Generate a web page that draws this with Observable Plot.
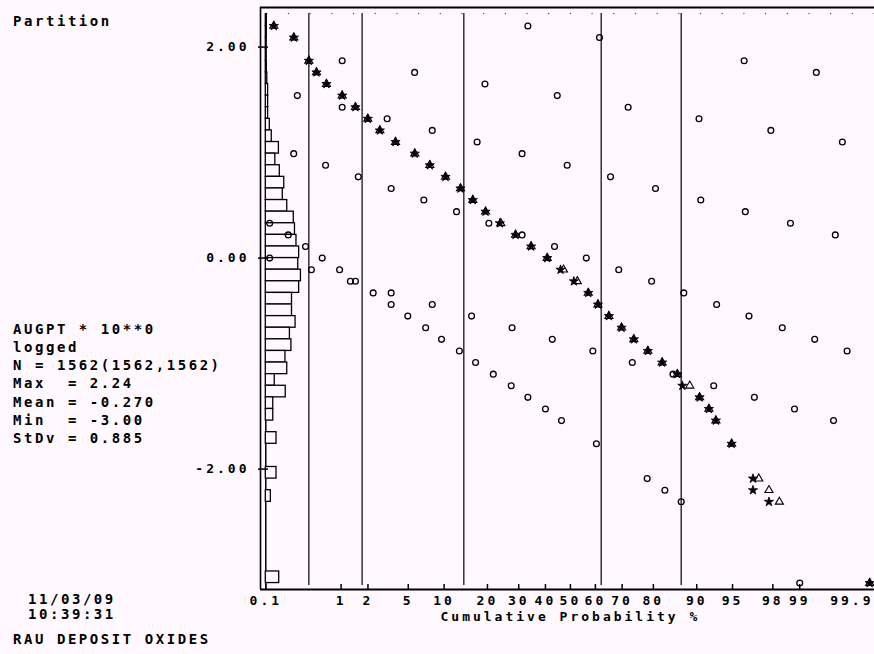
<!DOCTYPE html>
<html><head><meta charset="utf-8">
<script src="https://cdn.jsdelivr.net/npm/d3@7"></script>
<script src="https://cdn.jsdelivr.net/npm/@observablehq/plot@0.6"></script>
<style>
html,body{margin:0;padding:0;background:#fff8ff;}
#wrap{position:relative;width:874px;height:654px;overflow:hidden;background:#fff8ff;}
#wrap svg{position:absolute;left:0;top:0;}
.lbl{position:absolute;font-family:"DejaVu Sans Mono",monospace;font-weight:bold;font-size:14px;line-height:14px;letter-spacing:2.55px;white-space:pre;color:#000;}
</style></head><body>
<div id="wrap"></div>
<script>
// ---------- data ----------
const histBinLow = [2.20,2.09,1.98,1.87,1.76,1.65,1.54,1.43,1.32,1.21,1.10,0.99,0.88,0.77,0.66,0.55,0.44,0.33,0.22,0.11,0.00,-0.11,-0.22,-0.33,-0.44,-0.55,-0.66,-0.77,-0.88,-0.99,-1.10,-1.21,-1.32,-1.43,-1.54,-1.76,-2.09,-2.31,-3.08];
const histFreqPct = [0.17,0.17,0.13,0.13,0.17,0.25,0.39,0.39,0.39,0.67,1.0,2.2,1.6,2.35,3.1,2.85,3.6,4.7,4.9,5.15,5.6,5.45,5.9,5.6,4.4,4.4,5.0,4.05,4.3,3.3,3.6,1.5,3.35,1.25,1.25,1.8,1.8,0.85,2.25];
const histBinWidth = 0.11;

const starValue  = [2.20,2.09,1.87,1.76,1.65,1.54,1.43,1.32,1.21,1.10,0.99,0.88,0.77,0.66,0.55,0.44,0.33,0.22,0.11,0.00,-0.11,-0.22,-0.33,-0.44,-0.55,-0.66,-0.77,-0.88,-0.99,-1.10,-1.21,-1.32,-1.43,-1.54,-1.76,-2.09,-2.20,-2.31,-3.08];
const starCumPct = [0.131,0.251,0.398,0.50,0.666,1.03,1.46,1.99,2.66,3.80,5.72,7.69,10.26,13.24,16.1,19.46,23.7,28.9,34.5,40.7,46.0,51.4,57.2,61.0,65.2,69.8,74.0,78.4,82.4,86.1,87.2,90.5,92.0,93.0,94.9,96.8,96.8,97.8,99.88];

const triangleValue  = [2.20,2.09,1.87,1.76,1.65,1.54,1.43,1.32,1.21,1.10,0.99,0.88,0.77,0.66,0.55,0.44,0.33,0.22,0.11,0.00,-0.11,-0.22,-0.33,-0.44,-0.55,-0.66,-0.77,-0.88,-0.99,-1.10,-1.21,-1.32,-1.43,-1.54,-1.76,-2.09,-2.20,-2.31,-3.08];
const triangleCumPct = [0.131,0.251,0.398,0.50,0.666,1.03,1.46,1.99,2.66,3.80,5.72,7.69,10.26,13.24,16.1,19.46,24.0,28.9,34.5,40.7,47.2,52.8,57.2,61.0,65.2,69.8,74.0,78.4,82.4,86.1,88.7,90.5,92.0,93.0,94.9,97.2,97.8,98.3,99.88];

const circleValue  = [2.20,2.09,1.87,1.87,1.76,1.76,1.65,1.54,1.54,1.43,1.43,1.32,1.32,1.21,1.21,1.10,1.10,0.99,0.99,0.88,0.88,0.77,0.77,0.66,0.66,0.55,0.55,0.44,0.44,0.33,0.33,0.33,0.22,0.22,0.22,0.11,0.11,0.00,0.00,0.00,-0.11,-0.11,-0.11,-0.22,-0.22,-0.22,-0.33,-0.33,-0.33,-0.44,-0.44,-0.44,-0.55,-0.55,-0.55,-0.66,-0.66,-0.66,-0.77,-0.77,-0.77,-0.88,-0.88,-0.88,-0.99,-0.99,-1.10,-1.10,-1.21,-1.21,-1.32,-1.32,-1.43,-1.43,-1.54,-1.54,-1.76,-2.09,-2.20,-2.31,-3.08];
const circleCumPct = [33.3,61.6,1.03,96.1,5.7,99.37,19.3,0.28,44.7,1.03,72.1,3.15,90.4,8.05,97.9,17.2,99.71,0.25,31.2,0.65,48.7,1.57,65.8,3.45,80.6,6.85,90.7,12.4,96.2,0.114,20.4,98.72,0.21,31.2,99.64,0.36,43.6,0.114,0.59,56.4,0.43,0.96,68.8,1.28,1.46,79.5,2.27,3.45,87.5,3.45,8.05,93.1,4.95,15.8,96.5,7.1,27.7,98.42,9.55,42.7,99.34,13.0,59.0,99.75,16.8,73.5,21.7,85.1,27.4,92.7,33.3,96.9,40.0,98.85,46.4,99.62,60.4,78.2,83.1,86.95,99.0];

const partitionCumPct = [0.398,1.73,13.97,62.27,86.95];

const xTickPct    = [0.1,1,2,5,10,20,30,40,50,60,70,80,90,95,98,99,99.9];
const xTickLabels = ["0.1","1","2","5","10","20","30","40","50","60","70","80","90","95","98","99","99.9"];
const yTicks      = [2,0,-2];
const yTickLabels = ["2.00","0.00","-2.00"];
const xAxisTitle  = "Cumulative Probability %";

const topText    = ["Partition"];
const statsLines = ["AUGPT * 10**0","logged","N = 1562(1562,1562)","Max  = 2.24","Mean = -0.270","Min  = -3.00","StDv = 0.885"];
const dateLines  = ["11/03/09","10:39:31"];
const titleLine  = ["RAU DEPOSIT OXIDES"];

// ---------- probability (probit) transform ----------
function probit(p){
  const a=[-3.969683028665376e+01,2.209460984245205e+02,-2.759285104469687e+02,1.383577518672690e+02,-3.066479806614716e+01,2.506628277459239e+00];
  const b=[-5.447609879822406e+01,1.615858368580409e+02,-1.556989798598866e+02,6.680131188771972e+01,-1.328068155288572e+01];
  const c=[-7.784894002430293e-03,-3.223964580411365e-01,-2.400758277161838e+00,-2.549732539343734e+00,4.374664141464968e+00,2.938163982698783e+00];
  const d=[7.784695709041462e-03,3.224671290700398e-01,2.445134137142996e+00,3.754408661907416e+00];
  const pl=0.02425, ph=1-pl; let q,r;
  if(p<pl){q=Math.sqrt(-2*Math.log(p));return (((((c[0]*q+c[1])*q+c[2])*q+c[3])*q+c[4])*q+c[5])/((((d[0]*q+d[1])*q+d[2])*q+d[3])*q+1);}
  if(p<=ph){q=p-0.5;r=q*q;return (((((a[0]*r+a[1])*r+a[2])*r+a[3])*r+a[4])*r+a[5])*q/(((((b[0]*r+b[1])*r+b[2])*r+b[3])*r+b[4])*r+1);}
  q=Math.sqrt(-2*Math.log(1-p));return -(((((c[0]*q+c[1])*q+c[2])*q+c[3])*q+c[4])*q+c[5])/((((d[0]*q+d[1])*q+d[2])*q+d[3])*q+1);
}
const Z = pct => probit(pct/100);

const bg = "#fff8ff";
const xDomain = [-3.144, 3.085];
const yDomain = [-3.141, 2.375];
const baseZ = Z(0.1);
const zPerPct = 0.0604; // histogram bar length per percent of N

const hist = histBinLow.map((v,i)=>({lo:v, hi:v+histBinWidth, pct:histFreqPct[i]}));
const stars = starValue.map((v,i)=>({v, p:starCumPct[i]}));
const tris = triangleValue.map((v,i)=>({v, p:triangleCumPct[i]}));
const circles = circleValue.map((v,i)=>({v, p:circleCumPct[i]}));
const topDots = d3.range(-14,15).map(k=>k*0.22);

const xLabelMap = new Map(xTickPct.map((p,i)=>[Z(p), xTickLabels[i]]));
const yLabelMap = new Map(yTicks.map((v,i)=>[v, yTickLabels[i]]));
const xLabelTicks = xTickPct.slice(0,-1).map(Z);

const chart = Plot.plot({
  width: 874, height: 654,
  marginLeft: 260, marginRight: 0, marginTop: 7, marginBottom: 65,
  x: {type:"linear", domain: xDomain},
  y: {type:"linear", domain: yDomain},
  style: {background: bg, fontFamily: "DejaVu Sans Mono, monospace", fontSize: "13px", fontWeight: "bold", letterSpacing: "3px", color: "#000"},
  marks: [
    Plot.dot(topDots, {x: d=>d, frameAnchor: "top", dy: 6, r: 0.7, fill: "#555", stroke: "none"}),
    Plot.ruleX(partitionCumPct, {x: Z, insetTop: 6, insetBottom: 4, stroke: "#333", strokeWidth: 1.5}),
    Plot.ruleX([0.1], {x: Z, insetTop: 6, stroke: "#000", strokeWidth: 1.5}),
    Plot.rect(hist, {x1: () => baseZ, x2: d => baseZ + d.pct*zPerPct, y1: "lo", y2: "hi", fill: bg, stroke: "#000", strokeWidth: 1.3}),
    Plot.ruleX([xDomain[0]], {stroke: "#000", strokeWidth: 1.6}),
    Plot.ruleY([yDomain[0]], {stroke: "#000", strokeWidth: 2}),
    Plot.ruleY([yDomain[1]], {stroke: "#000", strokeWidth: 2}),
    Plot.ruleX(xTickPct, {x: Z, insetTop: 577, stroke: "#000", strokeWidth: 1.5}),
    Plot.ruleY(yTicks, {insetLeft: -2, insetRight: 606, stroke: "#000", strokeWidth: 1.5}),
    Plot.axisX(xLabelTicks, {tickSize: 0, tickPadding: 6, tickFormat: d => xLabelMap.get(d), label: null, fontSize: 13}),
    Plot.text([xTickLabels[xTickLabels.length-1]], {x: Z(xTickPct[xTickPct.length-1]), frameAnchor: "bottom", lineAnchor: "top", textAnchor: "end", dx: -1.5, dy: 6, fontSize: 13}),
    Plot.text([xAxisTitle], {x: Z(50), frameAnchor: "bottom", lineAnchor: "top", dy: 22.5, fontSize: 13}),
    Plot.axisY(yTicks, {tickSize: 0, tickPadding: 11, tickFormat: d => yLabelMap.get(d), label: null, fontSize: 13}),
    Plot.dot(circles, {x: d => Z(d.p), y: "v", r: 2.9, fill: "none", stroke: "#000", strokeWidth: 1.3}),
    Plot.dot(tris, {x: d => Z(d.p), y: "v", symbol: "triangle", r: 3.0, fill: "none", stroke: "#000", strokeWidth: 1.1}),
    Plot.dot(stars, {x: d => Z(d.p), y: "v", symbol: "star", r: 2.9, fill: "#000", stroke: "#000", strokeWidth: 0.8})
  ]
});

const wrap = document.getElementById("wrap");
wrap.appendChild(chart);

function addText(str, left, baseline){
  const el = document.createElement("div");
  el.className = "lbl";
  el.textContent = str;
  el.style.left = left + "px";
  el.style.top = (baseline - 11.8) + "px";
  wrap.appendChild(el);
}
addText(topText[0], 13, 26);
statsLines.forEach((s,i)=>addText(s, 13, 333.3 + i*18.33));
dateLines.forEach((s,i)=>addText(s, 28, 603.3 + i*15));
addText(titleLine[0], 13, 644);
</script>
</body></html>
